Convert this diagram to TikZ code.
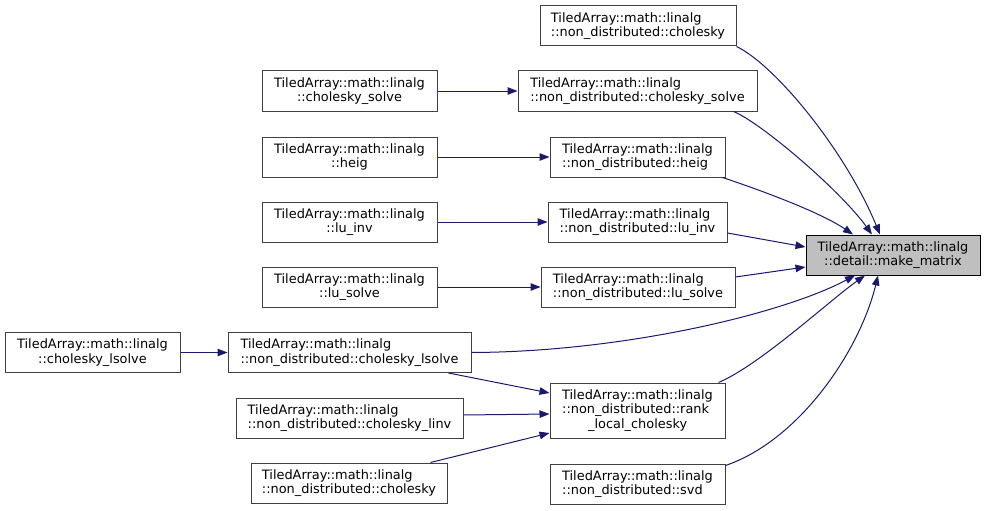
\documentclass[tikz,border=0pt]{standalone}
\usepackage{fontspec}
\setmainfont{DejaVu Sans}
\usetikzlibrary{arrows.meta}
\definecolor{edgeblue}{HTML}{191970}
\definecolor{boxgrey}{HTML}{404040}
\definecolor{rootfill}{HTML}{BFBFBF}
\begin{document}
\begin{tikzpicture}[x=1pt,y=-1pt,
  fn/.style={draw=boxgrey, line width=1pt, fill=white, inner sep=0pt,
    minimum height=40pt, font=\fontsize{12.9}{14.5}\selectfont},
  fnc/.style={fn, align=center},
  fnl/.style={fn, align=left},
  root/.style={fn, draw=black, fill=rootfill, align=center},
  call/.style={draw=edgeblue, line width=1pt,
    -{Triangle[length=10pt,width=7.5pt]}, fill=none},
]
\useasboundingbox (0,0) rectangle (985,511);

% root
\node[root, minimum width=174pt] (mm) at (893,255) {TiledArray::math::linalg\\::detail::make\_matrix};

% non_distributed column
\node[fnl, minimum width=196pt] (ndchol) at (638,26) {TiledArray::math::linalg\\::non\_distributed::cholesky};
\node[fnl, minimum width=239pt] (ndcs) at (637.5,91) {TiledArray::math::linalg\\::non\_distributed::cholesky\_solve};
\node[fnl, minimum width=175pt] (ndheig) at (637.5,157) {TiledArray::math::linalg\\::non\_distributed::heig};
\node[fnl, minimum width=179pt] (ndluinv) at (637.5,222) {TiledArray::math::linalg\\::non\_distributed::lu\_inv};
\node[fnl, minimum width=194pt] (ndlusolve) at (638,287) {TiledArray::math::linalg\\::non\_distributed::lu\_solve};
\node[fnl, minimum width=175pt, minimum height=55pt] (rank) at (637.5,410.5) {TiledArray::math::linalg\\::non\_distributed::rank\\\hspace*{26pt}\_local\_cholesky};
\node[fnl, minimum width=175pt] (svd) at (637.5,484) {TiledArray::math::linalg\\::non\_distributed::svd};

% middle column
\node[fnc, minimum width=175pt] (lcs) at (349.5,91) {TiledArray::math::linalg\\::cholesky\_solve};
\node[fnc, minimum width=175pt] (lheig) at (349.5,157) {TiledArray::math::linalg\\::heig};
\node[fnc, minimum width=175pt] (lluinv) at (349.5,222) {TiledArray::math::linalg\\::lu\_inv};
\node[fnc, minimum width=175pt] (llusolve) at (349.5,287) {TiledArray::math::linalg\\::lu\_solve};
\node[fnl, minimum width=243pt] (ndcl) at (349.5,352.5) {TiledArray::math::linalg\\::non\_distributed::cholesky\_lsolve};
\node[fnl, minimum width=227pt] (ndclinv) at (349.5,418) {TiledArray::math::linalg\\::non\_distributed::cholesky\_linv};
\node[fnl, minimum width=196pt] (ndchol2) at (349,483) {TiledArray::math::linalg\\::non\_distributed::cholesky};

% left column
\node[fnc, minimum width=175pt] (lcl) at (92.5,352.5) {TiledArray::math::linalg\\::cholesky\_lsolve};

% horizontal calls
\draw[call] (lcs.east) -- (ndcs.west);
\draw[call] (lheig.east) -- (ndheig.west);
\draw[call] (lluinv.east) -- (ndluinv.west);
\draw[call] (llusolve.east) -- (ndlusolve.west);
\draw[call] (lcl.east) -- (ndcl.west);

% into rank_local_cholesky
\draw[call] ([xshift=-23pt]ndcl.south east) -- ([yshift=17.5pt]rank.west);
\draw[call] ([yshift=3pt]ndclinv.east) -- ([yshift=-3.5pt]rank.west);
\draw[call] ([xshift=-17pt]ndchol2.north east) -- ([yshift=-22.5pt]rank.west);

% into make_matrix
\draw[call] (ndchol.south east) .. controls (775,65) and (845,150) .. ([xshift=-13pt]mm.north);
\draw[call] ([xshift=-24pt]ndcs.south east) .. controls (760,122) and (840,190) .. ([xshift=-21pt]mm.north);
\draw[call] ([xshift=-3pt]ndheig.south east) .. controls (760,190) and (820,212) .. ([xshift=-40pt]mm.north);
\draw[call] ([yshift=-11pt]ndluinv.east) -- ([yshift=8pt]mm.west);
\draw[call] ([yshift=10pt]ndlusolve.east) -- ([yshift=-12pt]mm.west);
\draw[call] (ndcl.east) .. controls (620,352) and (780,315) .. ([xshift=-38pt]mm.south);
\draw[call] ([xshift=-7pt]rank.north east) .. controls (760,365) and (830,300) .. ([xshift=-28pt]mm.south);
\draw[call] ([yshift=-2pt]svd.north east) .. controls (800,440) and (860,350) .. ([xshift=-15pt]mm.south);
\end{tikzpicture}
\end{document}
